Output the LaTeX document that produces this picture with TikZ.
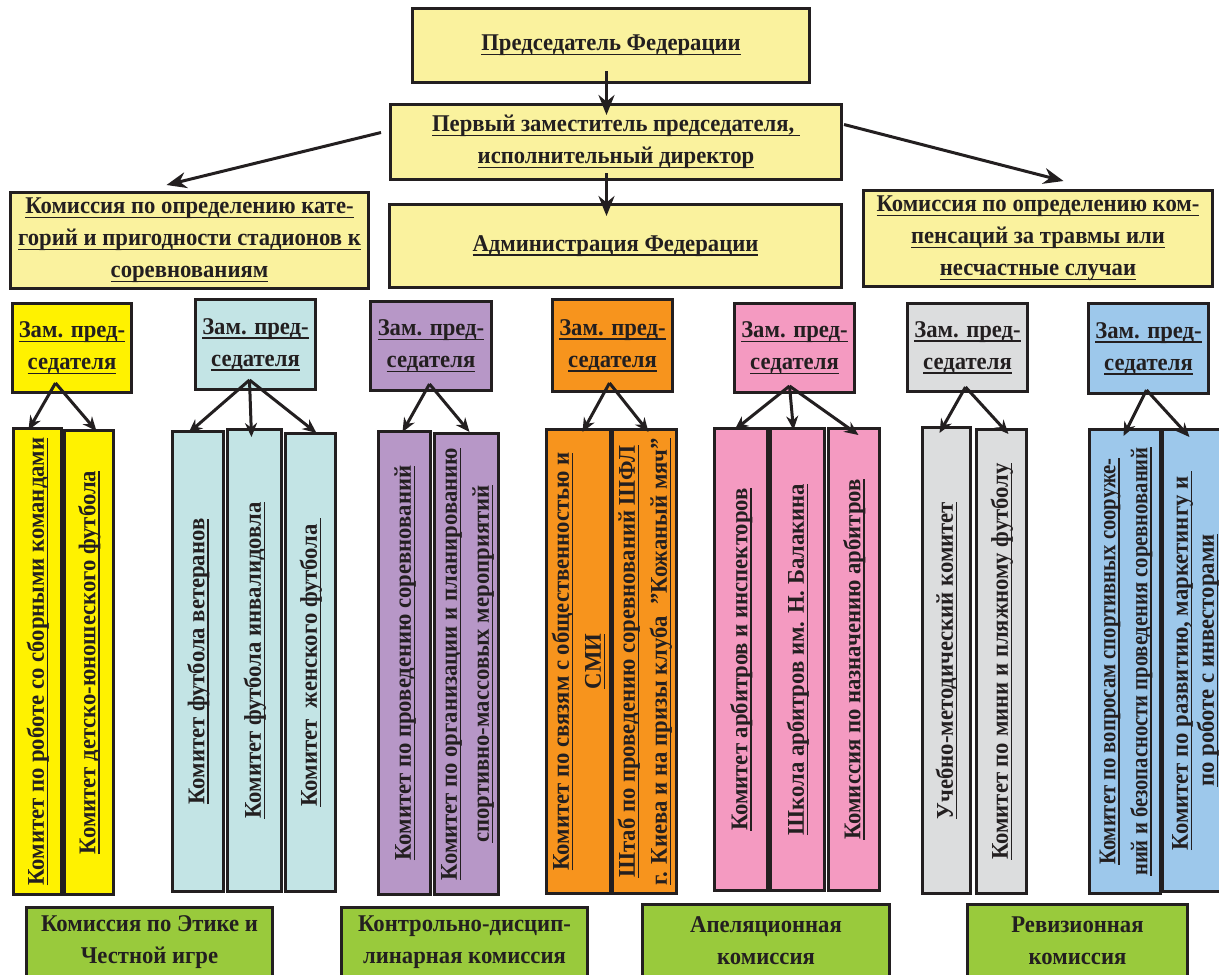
\documentclass[tikz,border=0pt]{standalone}
\usepackage{fontspec}
\setmainfont{Liberation Serif}[FakeStretch=0.945]
\usetikzlibrary{arrows.meta,calc}
\definecolor{ink}{HTML}{231F20}
\definecolor{paley}{HTML}{FAF29E}
\definecolor{yel}{HTML}{FFF200}
\definecolor{cya}{HTML}{C3E4E5}
\definecolor{pur}{HTML}{B797C7}
\definecolor{ora}{HTML}{F7941D}
\definecolor{pnk}{HTML}{F49AC1}
\definecolor{gry}{HTML}{DCDDDE}
\definecolor{blu}{HTML}{9DC8EB}
\definecolor{grn}{HTML}{99CA3C}
\newcommand{\vt}[1]{\rotatebox{90}{\begin{tabular}{@{}c@{}}#1\end{tabular}}}
\newcommand{\vtn}[1]{\rotatebox{90}{\scalebox{0.91}[1]{\begin{tabular}{@{}c@{}}#1\end{tabular}}}}
\newcommand{\ul}[1]{\leavevmode\setbox0\hbox{#1}\rlap{\color{ink}\rule[-4.5pt]{\wd0}{1.6pt}}\box0}
\begin{document}
\begin{tikzpicture}[x=1pt,y=-1pt,
  box/.style={draw=ink, line width=3pt, anchor=north west, inner sep=0pt, align=center, text=ink,
    font=\fontsize{24}{32}\selectfont\bfseries},
  wh/.style n args={2}{minimum width=#1pt, minimum height=#2pt},
  big/.style={draw=ink, line width=3pt, -{Stealth[length=20pt,width=16pt]}},
  small/.style={draw=ink, line width=3pt, -{Stealth[length=14pt,width=12pt]}}]
\clip (0,0) rectangle (1219,975);
\fill[white] (0,0) rectangle (1219,975);

% top level
\node[box, fill=paley, wh={397}{74}] (pred) at (411,7) {\ul{Председатель Федерации}};
\node[box, fill=paley, wh={451}{75}] (zam) at (389,103) {\ul{Первый заместитель председателя,\ }\\\ul{исполнительный директор}};
\node[box, fill=paley, wh={452}{83}] (adm) at (388,203) {\ul{Администрация Федерации}};
\node[box, fill=paley, wh={358}{96}] (lcom) at (9,191) {\ul{Комиссия по определению кате-}\\\ul{горий и пригодности стадионов к}\\\ul{соревнованиям}};
\node[box, fill=paley, wh={349}{96}] (rcom) at (862,189) {\ul{Комиссия по определению ком-}\\\ul{пенсаций за травмы или}\\\ul{несчастные случаи}};

% deputies
\node[box, fill=yel, wh={119}{89}] (zy) at (11,302) {\ul{Зам. пред-}\\\ul{седателя}};
\node[box, fill=cya, wh={120}{90}] (zc) at (194,298) {\ul{Зам. пред-}\\\ul{седателя}};
\node[box, fill=pur, wh={121}{89}] (zp) at (369,300) {\ul{Зам. пред-}\\\ul{седателя}};
\node[box, fill=ora, wh={120}{92}] (zo) at (551,298) {\ul{Зам. пред-}\\\ul{седателя}};
\node[box, fill=pnk, wh={120}{89}] (zk) at (733,302) {\ul{Зам. пред-}\\\ul{седателя}};
\node[box, fill=gry, wh={120}{88}] (zg) at (906,302) {\ul{Зам. пред-}\\\ul{седателя}};
\node[box, fill=blu, wh={120}{90}] (zb) at (1087,302) {\ul{Зам. пред-}\\\ul{седателя}};

% committees
\node[box, fill=yel, wh={48}{466}] (y1) at (12,427) {\vt{\ul{Комитет по роботе со сборными командами}}};
\node[box, fill=yel, wh={49}{464}] (y2) at (63,429) {\vt{\ul{Комитет детско-юношеского футбола}}};
\node[box, fill=cya, wh={51}{460}] (c1) at (171,430) {\vt{\ul{Комитет футбола ветеранов}}};
\node[box, fill=cya, wh={54}{462}] (c2) at (226,428) {\vt{\ul{Комитет футбола инвалидовла}}};
\node[box, fill=cya, wh={50}{458}] (c3) at (284,432) {\vt{\ul{Комитет\ \ женского футбола\ }}};
\node[box, fill=pur, wh={52}{463}] (p1) at (377,430) {\vt{\ul{Комитет по проведению соревнований}}};
\node[box, fill=pur, wh={64}{461}] (p2) at (433,432) {\vt{\ul{Комитет по организации и планированию}\\\ul{спортивно-массовых мероприятий}}};
\node[box, fill=ora, wh={62}{464}] (o1) at (545,428) {\vt{\ul{Комитет по связям с общественностью и}\\\ul{СМИ}}};
\node[box, fill=ora, wh={64}{464}] (o2) at (611,428) {\vt{\ul{Штаб по проведению соревнований ШФЛ}\\\ul{г. Киева и на призы клуба\ \ "Кожаный мяч"}}};
\node[box, fill=pnk, wh={53}{462}] (k1) at (713,427) {\vt{\ul{Комитет арбитров и инспекторов}}};
\node[box, fill=pnk, wh={54}{462}] (k2) at (769,427) {\vt{\ul{Школа арбитров им. Н. Балакина}}};
\node[box, fill=pnk, wh={51}{462}] (k3) at (827,427) {\vt{\ul{Комиссия по назначению арбитров}}};
\node[box, fill=gry, wh={48}{466}] (g1) at (921,426) {\vt{\ul{Учебно-методический комитет}}};
\node[box, fill=gry, wh={50}{464}] (g2) at (975,428) {\vt{\ul{Комитет по мини и пляжному футболу}}};
\node[box, fill=blu, wh={71}{464}] (b1) at (1088,428) {\vtn{\ul{Комитет по вопросам спортивных сооруже-}\\\ul{ний и безопасности проведения соревнований}}};
\node[box, fill=blu, wh={64}{462}] (b2) at (1161,428) {\vt{\ul{Комитет по развитию, маркетингу и\ }\\[-6pt]\ul{по роботе с инвесторами}}};

% commissions at the bottom
\node[box, fill=grn, wh={246}{70}] (e1) at (25,906) {Комиссия по Этике и\\Честной игре};
\node[box, fill=grn, wh={246}{70}] (e2) at (340,906) {Контрольно-дисцип-\\линарная комиссия};
\node[box, fill=grn, wh={247}{73}] (e3) at (641,903) {Апеляционная\\комиссия};
\node[box, fill=grn, wh={220}{73}] (e4) at (966,903) {Ревизионная\\комиссия};

% top arrows
\draw[big] ($(pred.south)+(-4.5,-13)$) -- ($(zam.north)+(-9.5,12)$);
\draw[big] ($(zam.south)+(-9.5,-8)$) -- ($(adm.north)+(-9,13)$);
\draw[big] ($(zam.west)+(-8,-9.5)$) -- ($(lcom.north)+(-23,-6)$);
\draw[big] ($(zam.east)+(1,-17.5)$) -- ($(rcom.north)+(25.5,-8)$);

% deputy arrows
\draw[small] ($(zy.south)+(-16.5,-11)$) -- ($(y1.north)+(-9,3)$);
\draw[small] ($(zy.south)+(-16.5,-11)$) -- ($(y2.north)+(7.5,2)$);
\draw[small] ($(zc.south)+(-6,-11)$) -- ($(c1.north)+(-9.5,3)$);
\draw[small] ($(zc.south)+(-6,-11)$) -- ($(c2.north)+(-3,9)$);
\draw[small] ($(zc.south)+(-6,-11)$) -- ($(c3.north)+(6,1)$);
\draw[small] ($(zp.south)+(-1.5,-8)$) -- ($(p1.north)+(-2,2)$);
\draw[small] ($(zp.south)+(-1.5,-8)$) -- ($(p2.north)+(3,0)$);
\draw[small] ($(zo.south)+(-3,-10)$) -- ($(o1.north)+(4,4)$);
\draw[small] ($(zo.south)+(-3,-10)$) -- ($(o2.north)+(4,4)$);
\draw[small] ($(zk.south)+(-5,-8)$) -- ($(k1.north)+(-6.5,3)$);
\draw[small] ($(zk.south)+(-5,-8)$) -- ($(k2.north)+(-4,3)$);
\draw[small] ($(zk.south)+(-5,-8)$) -- ($(k3.north)+(4.5,8)$);
\draw[small] ($(zg.south)+(-2,-6)$) -- ($(g1.north)+(-7,7)$);
\draw[small] ($(zg.south)+(-2,-6)$) -- ($(g2.north)+(7,6)$);
\draw[small] ($(zb.south)+(-2,-5)$) -- ($(b1.north)+(-1.5,8)$);
\draw[small] ($(zb.south)+(-2,-5)$) -- ($(b2.north)+(-5,9)$);
\end{tikzpicture}
\end{document}
